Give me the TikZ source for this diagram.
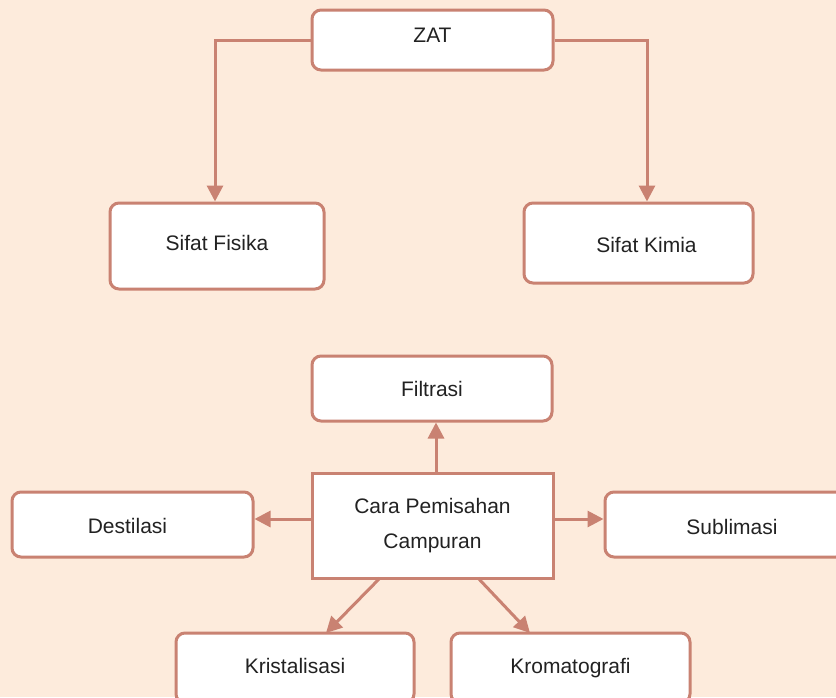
\documentclass[tikz,border=0pt]{standalone}
\usepackage{fontspec}
\setmainfont{Liberation Sans}
\usetikzlibrary{arrows.meta}
\definecolor{bgc}{HTML}{FDEBDC}
\definecolor{edc}{HTML}{C98272}
\definecolor{txc}{HTML}{222222}
\begin{document}
\begin{tikzpicture}[x=1pt,y=-1pt,
  box/.style={draw=edc,line width=3pt,fill=white,rounded corners=9pt,inner sep=0pt,
    font=\fontsize{21}{35}\selectfont,text=txc,align=center},
  one/.style={text height=15pt,text depth=4pt},
  sqbox/.style={box,rounded corners=0pt},
  conn/.style={draw=edc,line width=3pt},
  arr/.style={conn,-{Triangle[length=16pt,width=16pt]}}]
\useasboundingbox (0,0) rectangle (836,697);
\fill[bgc] (0,0) rectangle (836,697);
\clip (0,0) rectangle (836,697);
\node[box,one,minimum width=241pt,minimum height=60pt] (zat) at (432.5,40) {\raisebox{3pt}{ZAT}};
\node[box,one,minimum width=214pt,minimum height=86pt] (fis) at (217,246) {\raisebox{1pt}{Sifat Fisika}};
\node[box,one,minimum width=229pt,minimum height=80pt] (kim) at (638.5,243) {\hspace*{16pt}\raisebox{-4pt}{Sifat Kimia}};
\node[box,one,minimum width=240pt,minimum height=65pt] (fil) at (432,388.5) {\raisebox{-2pt}{Filtrasi}};
\node[sqbox,minimum width=241pt,minimum height=105pt] (cara) at (432.5,525.5) {Cara Pemisahan\\Campuran};
\node[box,one,minimum width=241pt,minimum height=65pt] (des) at (132.5,524.5) {\hspace*{-10pt}\raisebox{-3pt}{Destilasi}};
\node[box,one,minimum width=240pt,minimum height=65pt] (sub) at (725,524.5) {\hspace*{14pt}\raisebox{-4pt}{Sublimasi}};
\node[box,one,minimum width=238pt,minimum height=70pt] (kri) at (295,668) {\raisebox{0pt}{Kristalisasi}};
\node[box,one,minimum width=239pt,minimum height=70pt] (kro) at (570.5,668) {\raisebox{0pt}{Kromatografi}};
\coordinate (zl) at (215,40);
\coordinate (zr) at (647,40);
\draw[arr] (zat.west) -- (zl) -- (zl |- fis.north);
\draw[arr] (zat.east) -- (zr) -- (zr |- kim.north);
\draw[arr] (cara.north -| 436,0) -- (fil.south -| 436,0);
\draw[arr] (cara.west |- 0,519) -- (des.east |- 0,519);
\draw[arr] (cara.east |- 0,519) -- (sub.west |- 0,519);
\coordinate (kl) at (380,578);
\coordinate (kr) at (478,578);
\draw[arr] (kl) -- (326,633);
\draw[arr] (kr) -- (530,633);
\end{tikzpicture}
\end{document}
